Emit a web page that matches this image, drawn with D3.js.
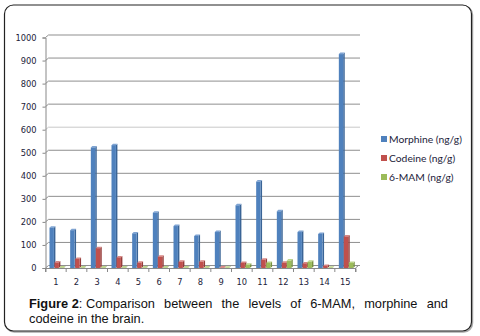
<!DOCTYPE html>
<html>
<head>
<meta charset="utf-8">
<script src="https://cdn.jsdelivr.net/npm/d3@7"></script>
<style>
  html, body { margin: 0; padding: 0; background: #fff; }
  svg { display: block; }
</style>
</head>
<body>
<svg id="chart" width="480" height="336"></svg>
<script>
// Sample numbers along the x axis
const categories = ["1","2","3","4","5","6","7","8","9","10","11","12","13","14","15"];
// Concentrations in brain tissue (ng/g)
const morphine = [175, 164, 523, 533, 150, 240, 182, 139, 156, 272, 375, 246, 156, 148, 928];
const codeine  = [24, 39, 86, 46, 23, 49, 27, 27, 2, 22, 36, 23, 20, 9, 137];
const mam6     = [2, 2, 2, 2, 2, 2, 2, 2, 1, 14, 22, 32, 27, 1, 22];
const seriesNames = ["Morphine (ng/g)", "Codeine (ng/g)", "6-MAM (ng/g)"];
const yTicks = [0, 100, 200, 300, 400, 500, 600, 700, 800, 900, 1000];

const seriesValues = [morphine, codeine, mam6];
const colors = [
  { front: "#4f81bd", side: "#3a6496", top: "#7fa4d3" },
  { front: "#c0504d", side: "#943c3a", top: "#d88582" },
  { front: "#9bbb59", side: "#77913f", top: "#bcd48a" }
];

const svg = d3.select("#chart");

// Outer frame with soft shadow
svg.append("rect").attr("x", 5.5).attr("y", 6).attr("width", 467).attr("height", 326)
  .attr("rx", 9).attr("fill", "none").attr("stroke", "#aaa").attr("stroke-width", 1.5);
svg.append("rect").attr("x", 4.5).attr("y", 5).attr("width", 467).attr("height", 326)
  .attr("rx", 9).attr("fill", "#fff").attr("stroke", "#222").attr("stroke-width", 1.2);

// 3D depth offset of the back wall
const dx = 3, dy = -2.5;
const x0 = 45.5, x1 = 355.5;
const y = d3.scaleLinear().domain([0, 1000]).range([268, 37.5]);
const x = d3.scaleBand().domain(categories).range([x0, x1]);
const xs = d3.scaleBand().domain(d3.range(3)).range([4, 19]);

// Back-wall gridlines with slanted side-wall segment
const grid = svg.append("g");
yTicks.forEach(t => {
  const yy = y(t);
  grid.append("path")
    .attr("d", `M${x0},${yy} L${x0 + dx},${yy + dy} L${x1 + dx + 1.5},${yy + dy}`)
    .attr("fill", "none").attr("stroke", t === 600 ? "#c8c8c8" : "#8f8f8f").attr("stroke-width", 1);
});

// Y axis (left wall edge) with ticks and labels
const yAxis = d3.axisLeft(y).tickValues(yTicks).tickFormat(d3.format("d")).tickSize(3).tickPadding(6);
const gy = svg.append("g").attr("transform", `translate(${x0},0)`).call(yAxis);
gy.select(".domain").attr("stroke", "#888");
gy.selectAll(".tick line").attr("stroke", "#888");
gy.selectAll(".tick text").attr("font-family", "DejaVu Sans").attr("font-size", 8.3).attr("fill", "#1c1c3a");

// Floor front edge, category ticks and labels
const xAxis = d3.axisBottom(x).tickSize(4).tickPadding(7).tickSizeOuter(4);
const gx = svg.append("g").attr("transform", `translate(0,${y(0)})`).call(xAxis);
gx.select(".domain").attr("stroke", "#888");
gx.selectAll(".tick line").attr("stroke", "#888").attr("transform", `translate(${-x.bandwidth() / 2},0)`);
gx.selectAll(".tick text").attr("font-family", "DejaVu Sans").attr("font-size", 8.3).attr("fill", "#1c1c3a");
// right end of floor
svg.append("path").attr("d", `M${x1},${y(0)} L${x1 + dx},${y(0) + dy}`).attr("stroke", "#888").attr("fill", "none");
svg.append("line").attr("x1", x1).attr("x2", x1).attr("y1", y(0)).attr("y2", y(0) + 4).attr("stroke", "#888");

// 3D columns: front face, right side face, top face
const bw = 4.4, bd = 1.5;
const bars = svg.append("g");
categories.forEach((c, i) => {
  seriesValues.forEach((vals, s) => {
    const v = vals[i];
    const bx = x(c) + xs(s);
    const top = y(v), base = y(0);
    const col = colors[s];
    bars.append("path")
      .attr("d", `M${bx + bw},${base} L${bx + bw + bd},${base - bd} L${bx + bw + bd},${top - bd} L${bx + bw},${top} Z`)
      .attr("fill", col.side);
    bars.append("path")
      .attr("d", `M${bx},${top} L${bx + bd},${top - bd} L${bx + bw + bd},${top - bd} L${bx + bw},${top} Z`)
      .attr("fill", col.top);
    bars.append("rect").attr("x", bx).attr("y", top).attr("width", bw).attr("height", base - top)
      .attr("fill", col.front);
  });
});

// Legend
const legend = svg.append("g").attr("transform", "translate(381,0)");
const legendY = [139, 158, 177];
seriesNames.forEach((n, s) => {
  legend.append("rect").attr("x", 0).attr("y", legendY[s] - 3).attr("width", 6).attr("height", 6).attr("fill", colors[s].front);
  legend.append("text").attr("x", 8).attr("y", legendY[s] + 3.5).text(n)
    .attr("font-family", "Lato").attr("font-size", 10.3).attr("fill", "#1c1c3a");
});

// Caption, first line justified across the text block
const capLeft = 29, capRight = 448;
const cap = svg.append("g").attr("font-family", "Liberation Sans").attr("font-size", 12.8).attr("fill", "#111");
const line1 = [
  { t: "Figure 2", b: true, glue: true }, { t: ": Comparison", b: false },
  { t: "between" }, { t: "the" }, { t: "levels" }, { t: "of" }, { t: "6-MAM," }, { t: "morphine" }, { t: "and" }
];
// measure words
const words = [];
line1.forEach(w => {
  const el = cap.append("text").attr("y", 307.5).text(w.t).attr("font-weight", w.b ? "bold" : "normal");
  words.push({ el, w: el.node().getComputedTextLength(), glue: w.glue });
});
// "Figure 2" and ": Comparison" touch; remaining words get equal gaps
const units = [];
for (let i = 0; i < words.length; i++) {
  if (words[i].glue) { units.push([words[i], words[i + 1]]); i++; }
  else units.push([words[i]]);
}
const total = d3.sum(words, d => d.w);
const gap = (capRight - capLeft - total) / (units.length - 1);
let cx = capLeft;
units.forEach(u => {
  u.forEach(w => { w.el.attr("x", cx); cx += w.w; });
  cx += gap;
});
cap.append("text").attr("x", capLeft).attr("y", 322.5).text("codeine in the brain.");
</script>
</body>
</html>
